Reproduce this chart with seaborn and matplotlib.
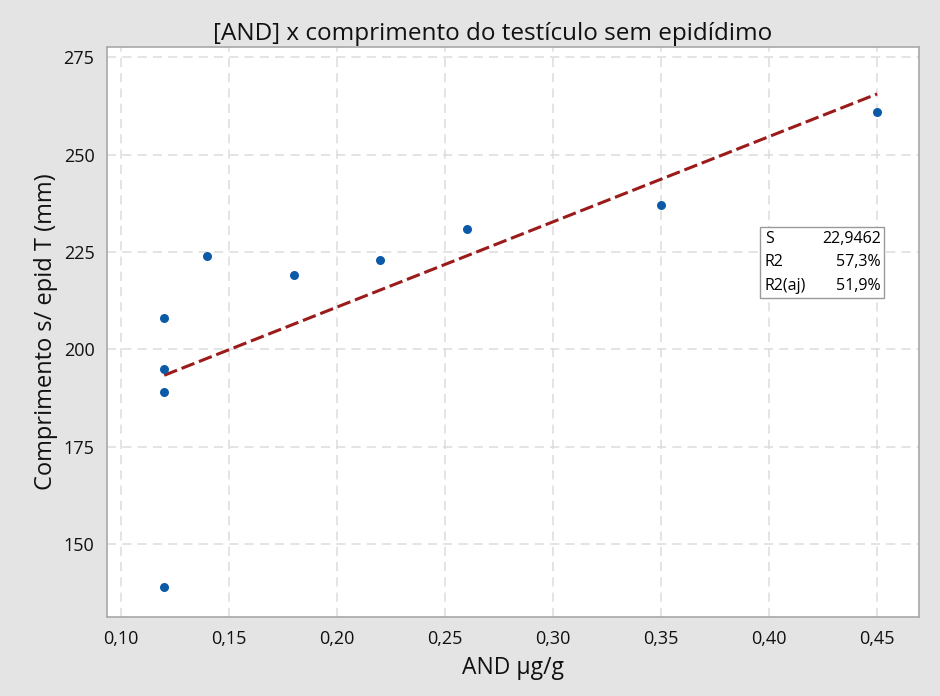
import matplotlib
matplotlib.use("Agg")
import matplotlib.pyplot as plt
from matplotlib.ticker import FuncFormatter
import numpy as np
import pandas as pd
import seaborn as sns

# AND concentration (µg/g) and testis length without epididymis (mm)
and_conc = [0.12, 0.12, 0.12, 0.12, 0.14, 0.18, 0.22, 0.26, 0.35, 0.45]
comprimento = [139, 189, 195, 208, 224, 219, 223, 231, 237, 261]

x_ticks = [0.10, 0.15, 0.20, 0.25, 0.30, 0.35, 0.40, 0.45]
y_ticks = [150, 175, 200, 225, 250, 275]

df = pd.DataFrame({"AND": and_conc, "comp": comprimento})

sns.set_theme(style="white")
plt.rcParams["font.family"] = ["Open Sans", "DejaVu Sans"]

fig = plt.figure(figsize=(9.4, 6.96), dpi=100, facecolor="#e4e4e4")
ax = fig.add_axes([0.1138, 0.1135, 0.8639, 0.819])

sns.regplot(data=df, x="AND", y="comp", ax=ax, ci=None,
            scatter_kws=dict(color="#0a5aa8", s=42, alpha=1, zorder=3, linewidths=0),
            line_kws=dict(color="#9b1b1b", lw=2.2, ls=(0, (4.5, 1.6)), zorder=2))

ax.set_xlim(0.0935, 0.4694)
ax.set_ylim(131.3, 277.6)
ax.set_xticks(x_ticks)
ax.set_yticks(y_ticks)
ax.xaxis.set_major_formatter(FuncFormatter(lambda v, p: f"{v:.2f}".replace(".", ",")))
ax.yaxis.set_major_formatter(FuncFormatter(lambda v, p: f"{v:.0f}"))
ax.grid(True, color="#dcdcdc", ls=(0, (6, 4)), lw=1.1)
ax.set_axisbelow(True)
for s in ax.spines.values():
    s.set_color("#a8a8a8")
    s.set_linewidth(1.2)
ax.tick_params(axis="both", direction="out", length=5, width=1, color="#888888",
               labelsize=13, labelcolor="#111111", pad=4)

ax.set_xlabel("AND µg/g", fontsize=16.5, color="#111111", labelpad=6)
ax.set_ylabel("Comprimento s/ epid T (mm)", fontsize=17, color="#111111", labelpad=4)
ax.set_title("[AND] x comprimento do testículo sem epidídimo", fontsize=17.5,
             color="#111111", pad=5, x=0.475)

# regression summary table
xa = np.array(and_conc)
ya = np.array(comprimento)
slope, intercept = np.polyfit(xa, ya, 1)
resid = ya - (slope * xa + intercept)
n = len(xa)
sse = np.sum(resid ** 2)
sst = np.sum((ya - ya.mean()) ** 2)
r2 = 1 - sse / sst
r2a = 1 - (1 - r2) * (n - 1) / (n - 2)
s_val = np.sqrt(sse / (n - 2))

labels = ["S", "R2", "R2(aj)"]
values = [f"{s_val:.4f}".replace(".", ","),
          f"{r2 * 100:.1f}%".replace(".", ","),
          f"{r2a * 100:.1f}%".replace(".", ",")]

bx0, bx1 = (760 - 107) / 812, (884 - 107) / 812
by_top, by_bot = 1 - (227 - 47) / 570, 1 - (298 - 47) / 570
box = plt.Rectangle((bx0, by_bot), bx1 - bx0, by_top - by_bot, transform=ax.transAxes,
                    facecolor="white", edgecolor="#9a9a9a", lw=1, zorder=4)
ax.add_patch(box)
row_h = (by_top - by_bot) / 3
for i, (lab, val) in enumerate(zip(labels, values)):
    yy = by_top - row_h * (i + 0.5)
    ax.text(bx0 + 0.006, yy, lab, transform=ax.transAxes, fontsize=11.5, va="center",
            ha="left", color="#000000", zorder=5)
    ax.text(bx1 - 0.004, yy, val, transform=ax.transAxes, fontsize=11.5, va="center",
            ha="right", color="#000000", zorder=5)

fig.savefig("out.png", dpi=100, facecolor=fig.get_facecolor())
